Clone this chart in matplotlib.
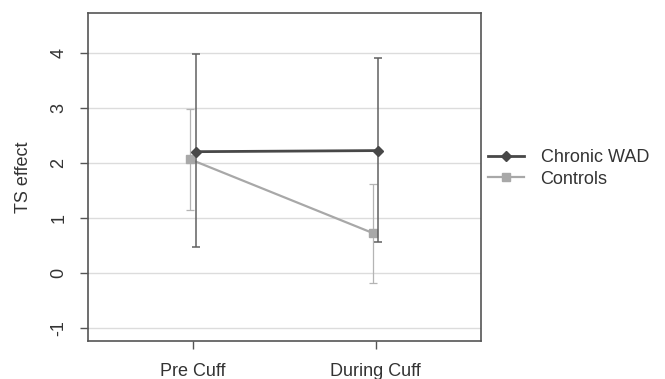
import matplotlib.pyplot as plt
import numpy as np

conditions = ["Pre Cuff", "During Cuff"]
groups = ["Chronic WAD", "Controls"]

wad_mean = [2.21, 2.23]
wad_low = [0.47, 0.56]
wad_high = [3.98, 3.91]

ctrl_mean = [2.07, 0.73]
ctrl_low = [1.15, -0.17]
ctrl_high = [2.99, 1.63]

y_ticks = [-1, 0, 1, 2, 3, 4]


def main():
    plt.rcParams['font.family'] = ['Liberation Sans', 'DejaVu Sans']
    fig = plt.figure(figsize=(6.65, 3.79), dpi=100)
    ax = fig.add_axes([0.1323, 0.1003, 0.591, 0.8654])

    x = np.arange(len(conditions))
    dodge = 0.015

    for yv in y_ticks:
        ax.axhline(yv, color='#dcdcdc', lw=1.0, zorder=0)

    # controls drawn first, under the WAD series
    xc = x - dodge
    cm = np.array(ctrl_mean)
    ax.errorbar(xc, cm, yerr=[cm - np.array(ctrl_low), np.array(ctrl_high) - cm],
                fmt='none', ecolor='#b4b4b4', elinewidth=0.9, capsize=3, capthick=0.9, zorder=2)
    ax.plot(xc, cm, color='#a8a8a8', lw=1.6, marker='s', ms=5.5, zorder=3, label=groups[1])

    xw = x + dodge
    wm = np.array(wad_mean)
    ax.errorbar(xw, wm, yerr=[wm - np.array(wad_low), np.array(wad_high) - wm],
                fmt='none', ecolor='#606060', elinewidth=1.1, capsize=3, capthick=1.1, zorder=4)
    ax.plot(xw, wm, color='#484848', lw=2.0, marker='D', ms=5, zorder=5, label=groups[0])

    ax.set_xlim(-0.575, 1.576)
    ax.set_ylim(-1.23, 4.73)
    ax.set_xticks(x, conditions, fontsize=13)
    ax.set_yticks(y_ticks, [str(t) for t in y_ticks], fontsize=13, rotation=90, va='center')
    ax.tick_params(axis='both', length=6, color='#555555', labelcolor='#333333', width=1.0)
    ax.tick_params(axis='x', pad=10)
    ax.tick_params(axis='y', pad=9)
    for s in ax.spines.values():
        s.set_color('#555555')
        s.set_linewidth(1.2)
    ax.set_ylabel("TS effect", fontsize=13, color='#333333', labelpad=13)

    h, l = ax.get_legend_handles_labels()
    ax.legend(h[::-1], l[::-1], loc='center left', bbox_to_anchor=(0.977, 0.526), frameon=False,
              fontsize=13, handlelength=2.0, handletextpad=0.9, labelspacing=0.25, labelcolor='#333333')

    fig.savefig('out.png', dpi=100)


if __name__ == "__main__":
    main()
